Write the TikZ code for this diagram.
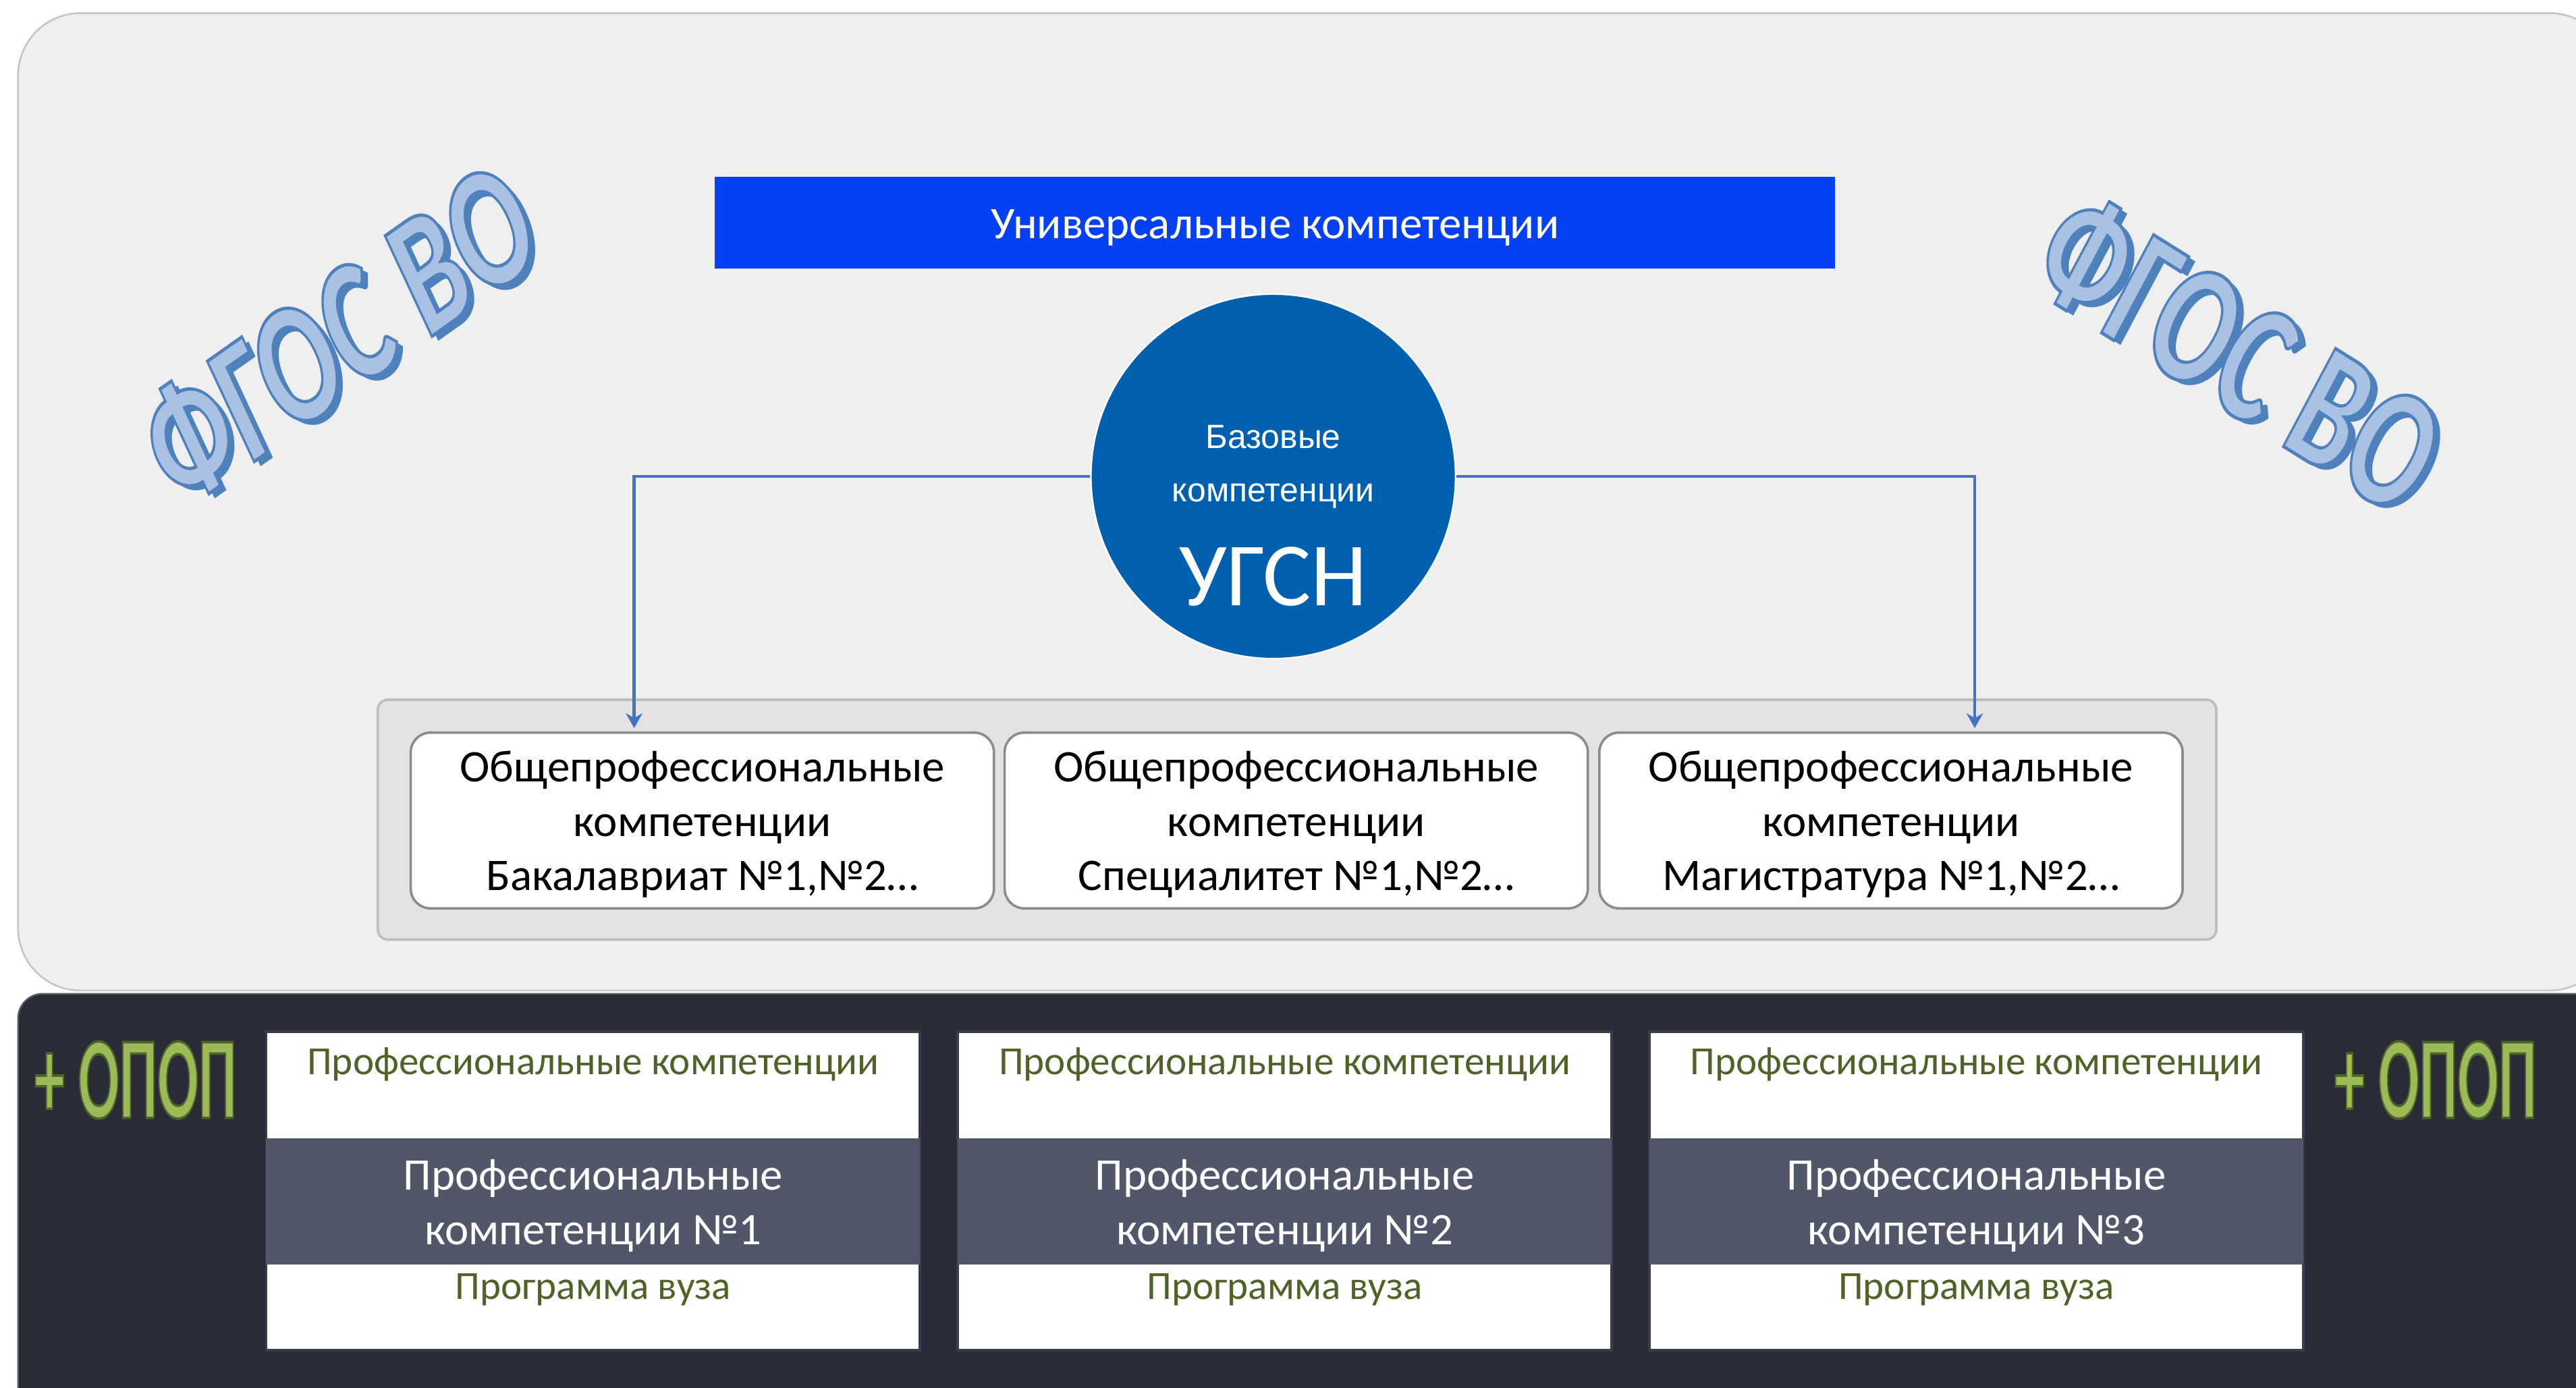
\documentclass[tikz,border=0pt]{standalone}
\usepackage{fontspec}
\usepackage{graphicx}
\setmainfont{Carlito}
\newfontfamily\arialfont{Liberation Sans}
\usetikzlibrary{arrows.meta,positioning}

\definecolor{panelgray}{HTML}{EFEFEF}
\definecolor{panelline}{HTML}{C6C6C6}
\definecolor{unibar}{HTML}{0540F2}
\definecolor{ugsnblue}{HTML}{0060B0}
\definecolor{linkblue}{HTML}{4472C4}
\definecolor{groupgray}{HTML}{E3E3E3}
\definecolor{groupline}{HTML}{BEBEBE}
\definecolor{boxline}{HTML}{8C8C8C}
\definecolor{darkpanel}{HTML}{292B37}
\definecolor{slate}{HTML}{515669}
\definecolor{olive}{HTML}{4F6228}
\definecolor{opopgreen}{HTML}{9BBB59}
\definecolor{fgosdark}{HTML}{4F81BD}
\definecolor{fgoslight}{HTML}{A9C1E3}

% outlined words (fill + stroke)
\newcommand{\fgosword}{\special{pdf:literal direct 2 Tr 2 w 0.31 0.506 0.741 RG}ФГОС ВО\special{pdf:literal direct 0 Tr}}
\newcommand{\opopword}{\special{pdf:literal direct 2 Tr 1.5 w 0.31 0.384 0.157 RG}+ ОПОП\special{pdf:literal direct 0 Tr}}
% lines set a little lower than the box centre
\newcommand{\lowlines}[1]{\raisebox{-3pt}[\height][\depth]{\begin{tabular}{@{}c@{}}#1\end{tabular}}}

\tikzset{
  opbox/.style={draw=boxline, line width=1.5pt, fill=white, rounded corners=12pt,
    minimum width=355pt, minimum height=107pt, inner sep=0pt,
    font=\fontsize{27.5}{33}\selectfont},
  proftab/.style={draw=slate!70!black, line width=1.5pt, fill=white,
    minimum width=398pt, minimum height=194pt, inner sep=0pt},
  profcore/.style={fill=slate, text=white, minimum width=398pt, minimum height=77pt,
    inner sep=0pt, font=\fontsize{27.5}{33}\selectfont},
  proflabel/.style={text=olive, inner sep=0pt, font=\fontsize{24.3}{28}\selectfont},
  basetext/.style={text=white, inner sep=0pt, font=\arialfont\fontsize{20.5}{24}\selectfont},
  fgos/.style={inner sep=0pt, font=\fontsize{104}{104}\selectfont\bfseries},
  opop/.style={text=opopgreen, inner sep=0pt, font=\fontsize{71}{71}\selectfont\bfseries},
  link/.style={draw=linkblue, line width=1.8pt, shorten >=2pt, -{Stealth[length=9pt,width=10pt]}},
}

\begin{document}
\begin{tikzpicture}[x=1pt, y=-1pt]
  \useasboundingbox (0,0) rectangle (1568,845);
  % panels
  \draw[fill=panelgray, draw=panelline, line width=1.1pt, rounded corners=38pt] (11,8) rectangle (1590,603);
  \draw[fill=darkpanel, draw=gray!55!darkpanel, line width=1pt, rounded corners=15pt] (11,605) rectangle (1610,880);

  % FGOS labels (shadow, then outlined word)
  \node[fgos, text=fgosdark, rotate=25, yslant=0.18, xscale=0.68] at (210,206) {ФГОС ВО};
  \node[fgos, text=fgoslight, rotate=25, yslant=0.18, xscale=0.68] (fgosleft) at (206,203) {\fgosword};
  \node[fgos, text=fgosdark, rotate=-28, yslant=-0.07, xscale=0.68] at (1367,217) {ФГОС ВО};
  \node[fgos, text=fgoslight, rotate=-28, yslant=-0.07, xscale=0.68] (fgosright) at (1363,214) {\fgosword};

  % universal + base
  \node[fill=unibar, text=white, minimum width=682pt, minimum height=56pt, inner sep=0pt,
    font=\fontsize{27.5}{33}\selectfont] (uni) at (776,135.5) {\lowlines{Универсальные компетенции}};
  \node[circle, fill=ugsnblue, draw=white, line width=1pt, minimum size=222pt] (ugsn) at (775,290) {};
  \node[basetext] (base1) at (775,266) {Базовые};
  \node[basetext] (base2) at (775,302) {компетенции};
  \node[text=white, inner sep=0pt, font=\fontsize{55}{55}\selectfont] (ugsnname) at (775,351) {УГСН};

  % general professional
  \node[fill=groupgray, draw=groupline, line width=1.5pt, rounded corners=6pt,
    minimum width=1119pt, minimum height=146pt] (opgroup) at (789.5,499) {};
  \node[opbox] (bak) at (427.5,499.5) {\lowlines{Общепрофессиональные\\компетенции\\Бакалавриат №1,№2…}};
  \node[opbox] (spec) at (789,499.5) {\lowlines{Общепрофессиональные\\компетенции\\Специалитет №1,№2…}};
  \node[opbox] (mag) at (1151,499.5) {\lowlines{Общепрофессиональные\\компетенции\\Магистратура №1,№2…}};

  \draw[link] (ugsn.west) -| ([xshift=-41.5pt]bak.north);
  \draw[link] (ugsn.east) -| ([xshift=51pt]mag.north);

  % OPOP
  \node[opop, xscale=0.52] (opopleft) at (82.5,657.5) {\opopword};
  \node[opop, xscale=0.52] (opopright) at (1482.5,657.5) {\opopword};

  \node[proftab] (prof1) at (361,725) {};
  \node[profcore] (core1) at (361,731.5) {\lowlines{Профессиональные\\компетенции №1}};
  \node[proflabel] (top1) at (361,648) {Профессиональные компетенции};
  \node[proflabel] (prog1) at (361,785) {Программа вуза};

  \node[proftab] (prof2) at (782,725) {};
  \node[profcore] (core2) at (782,731.5) {\lowlines{Профессиональные\\компетенции №2}};
  \node[proflabel] (top2) at (782,648) {Профессиональные компетенции};
  \node[proflabel] (prog2) at (782,785) {Программа вуза};

  \node[proftab] (prof3) at (1203,725) {};
  \node[profcore] (core3) at (1203,731.5) {\lowlines{Профессиональные\\компетенции №3}};
  \node[proflabel] (top3) at (1203,648) {Профессиональные компетенции};
  \node[proflabel] (prog3) at (1203,785) {Программа вуза};
\end{tikzpicture}
\end{document}
